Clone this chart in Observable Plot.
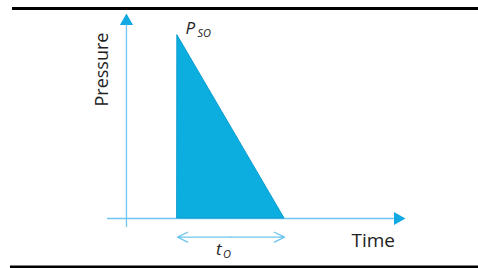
<!DOCTYPE html>
<html>
<head>
<meta charset="utf-8">
<script src="https://cdn.jsdelivr.net/npm/d3@7"></script>
<script src="https://cdn.jsdelivr.net/npm/@observablehq/plot@0.6"></script>
<style>
  html, body { margin: 0; padding: 0; background: #fff; }
  svg { display: block; font-family: "Open Sans", sans-serif; }
</style>
</head>
<body>
<div id="chart"></div>
<script>
// Schematic blast pulse: time in units of t_O, pressure in units of P_SO
const pulseTime = [0, 1];
const pulsePressure = [1, 0];

// axis extents (time / pressure units)
const timeAxisStart = -0.654, timeAxisEnd = 2.028, timeArrowTip = 2.059;
const pressureAxisAt = -0.477, pressureAxisStart = -0.049, pressureAxisEnd = 1.055, pressureArrowTip = 1.078;

// duration bracket
const bracketLevel = -0.102;
const bracketFrom = [0.5, 0.5];
const bracketTo = [0, 1];

// frame rules (top and bottom)
const ruleLevels = [1.1475, -0.265];
const ruleStarts = [-1.542, -1.561];

// labels
const axisLabels = ["Pressure", "Time"];
const peakLabel = ["P", "SO"];
const durationLabel = ["t", "O"];

const lightBlue = "#6fc5ee";
const arrowBlue = "#12a9e2";
const fillBlue = "#0caee0";

const chart = Plot.plot({
  width: 478,
  height: 268,
  margin: 0,
  x: {domain: [-177 / 107, 301 / 107], axis: null},
  y: {domain: [-50 / 183, 218 / 183], axis: null},
  marks: [
    // frame rules
    Plot.ruleY(ruleLevels, {y: d => d, x1: (d, i) => ruleStarts[i], x2: 3, stroke: "#000", strokeWidth: 3}),
    // axes
    Plot.ruleY([0], {x1: timeAxisStart, x2: timeAxisEnd, stroke: lightBlue, strokeWidth: 1.3}),
    Plot.ruleX([pressureAxisAt], {y1: pressureAxisStart, y2: pressureAxisEnd, stroke: lightBlue, strokeWidth: 1.3}),
    Plot.dot([0], {x: timeArrowTip, y: 0, symbol: "triangle", r: 4.9, rotate: 90, fill: arrowBlue, stroke: "none"}),
    Plot.dot([0], {x: pressureAxisAt, y: pressureArrowTip, symbol: "triangle", r: 4.9, fill: arrowBlue, stroke: "none"}),
    // pulse
    Plot.areaY(pulseTime.map((t, i) => ({t, p: pulsePressure[i]})), {x: "t", y: "p", fill: fillBlue, stroke: "#0a9ccf", strokeWidth: 1}),
    // duration bracket
    Plot.arrow(bracketFrom, {
      x1: d => d, x2: (d, i) => bracketTo[i], y1: bracketLevel, y2: bracketLevel,
      stroke: lightBlue, strokeWidth: 1.3, headLength: 13, headAngle: 52
    }),
    // axis labels
    Plot.text([axisLabels[0]], {text: d => d, x: -0.645, y: 0.814, rotate: -90, lineAnchor: "bottom", fontSize: 18, fill: "#222"}),
    Plot.text([axisLabels[1]], {text: d => d, x: 1.626, y: -0.158, textAnchor: "start", lineAnchor: "bottom", fontSize: 19, fill: "#222"}),
    // P_SO
    Plot.text([peakLabel[0]], {text: d => d, x: pulseTime[0], y: pulsePressure[0], dx: 8, dy: -2, textAnchor: "start", lineAnchor: "bottom", fontSize: 17, fontStyle: "italic", fill: "#222"}),
    Plot.text([peakLabel[1]], {text: d => d, x: pulseTime[0], y: pulsePressure[0], dx: 20, dy: 1, textAnchor: "start", lineAnchor: "bottom", fontSize: 11, fontStyle: "italic", fill: "#222"}),
    // t_O
    Plot.text([durationLabel[0]], {text: d => d, x: 0.5, y: bracketLevel, dx: -15, dy: 18, textAnchor: "start", lineAnchor: "bottom", fontSize: 17, fontStyle: "italic", fill: "#222"}),
    Plot.text([durationLabel[1]], {text: d => d, x: 0.5, y: bracketLevel, dx: -8, dy: 20.5, textAnchor: "start", lineAnchor: "bottom", fontSize: 11, fontStyle: "italic", fill: "#222"})
  ]
});
document.getElementById("chart").appendChild(chart);
</script>
</body>
</html>
